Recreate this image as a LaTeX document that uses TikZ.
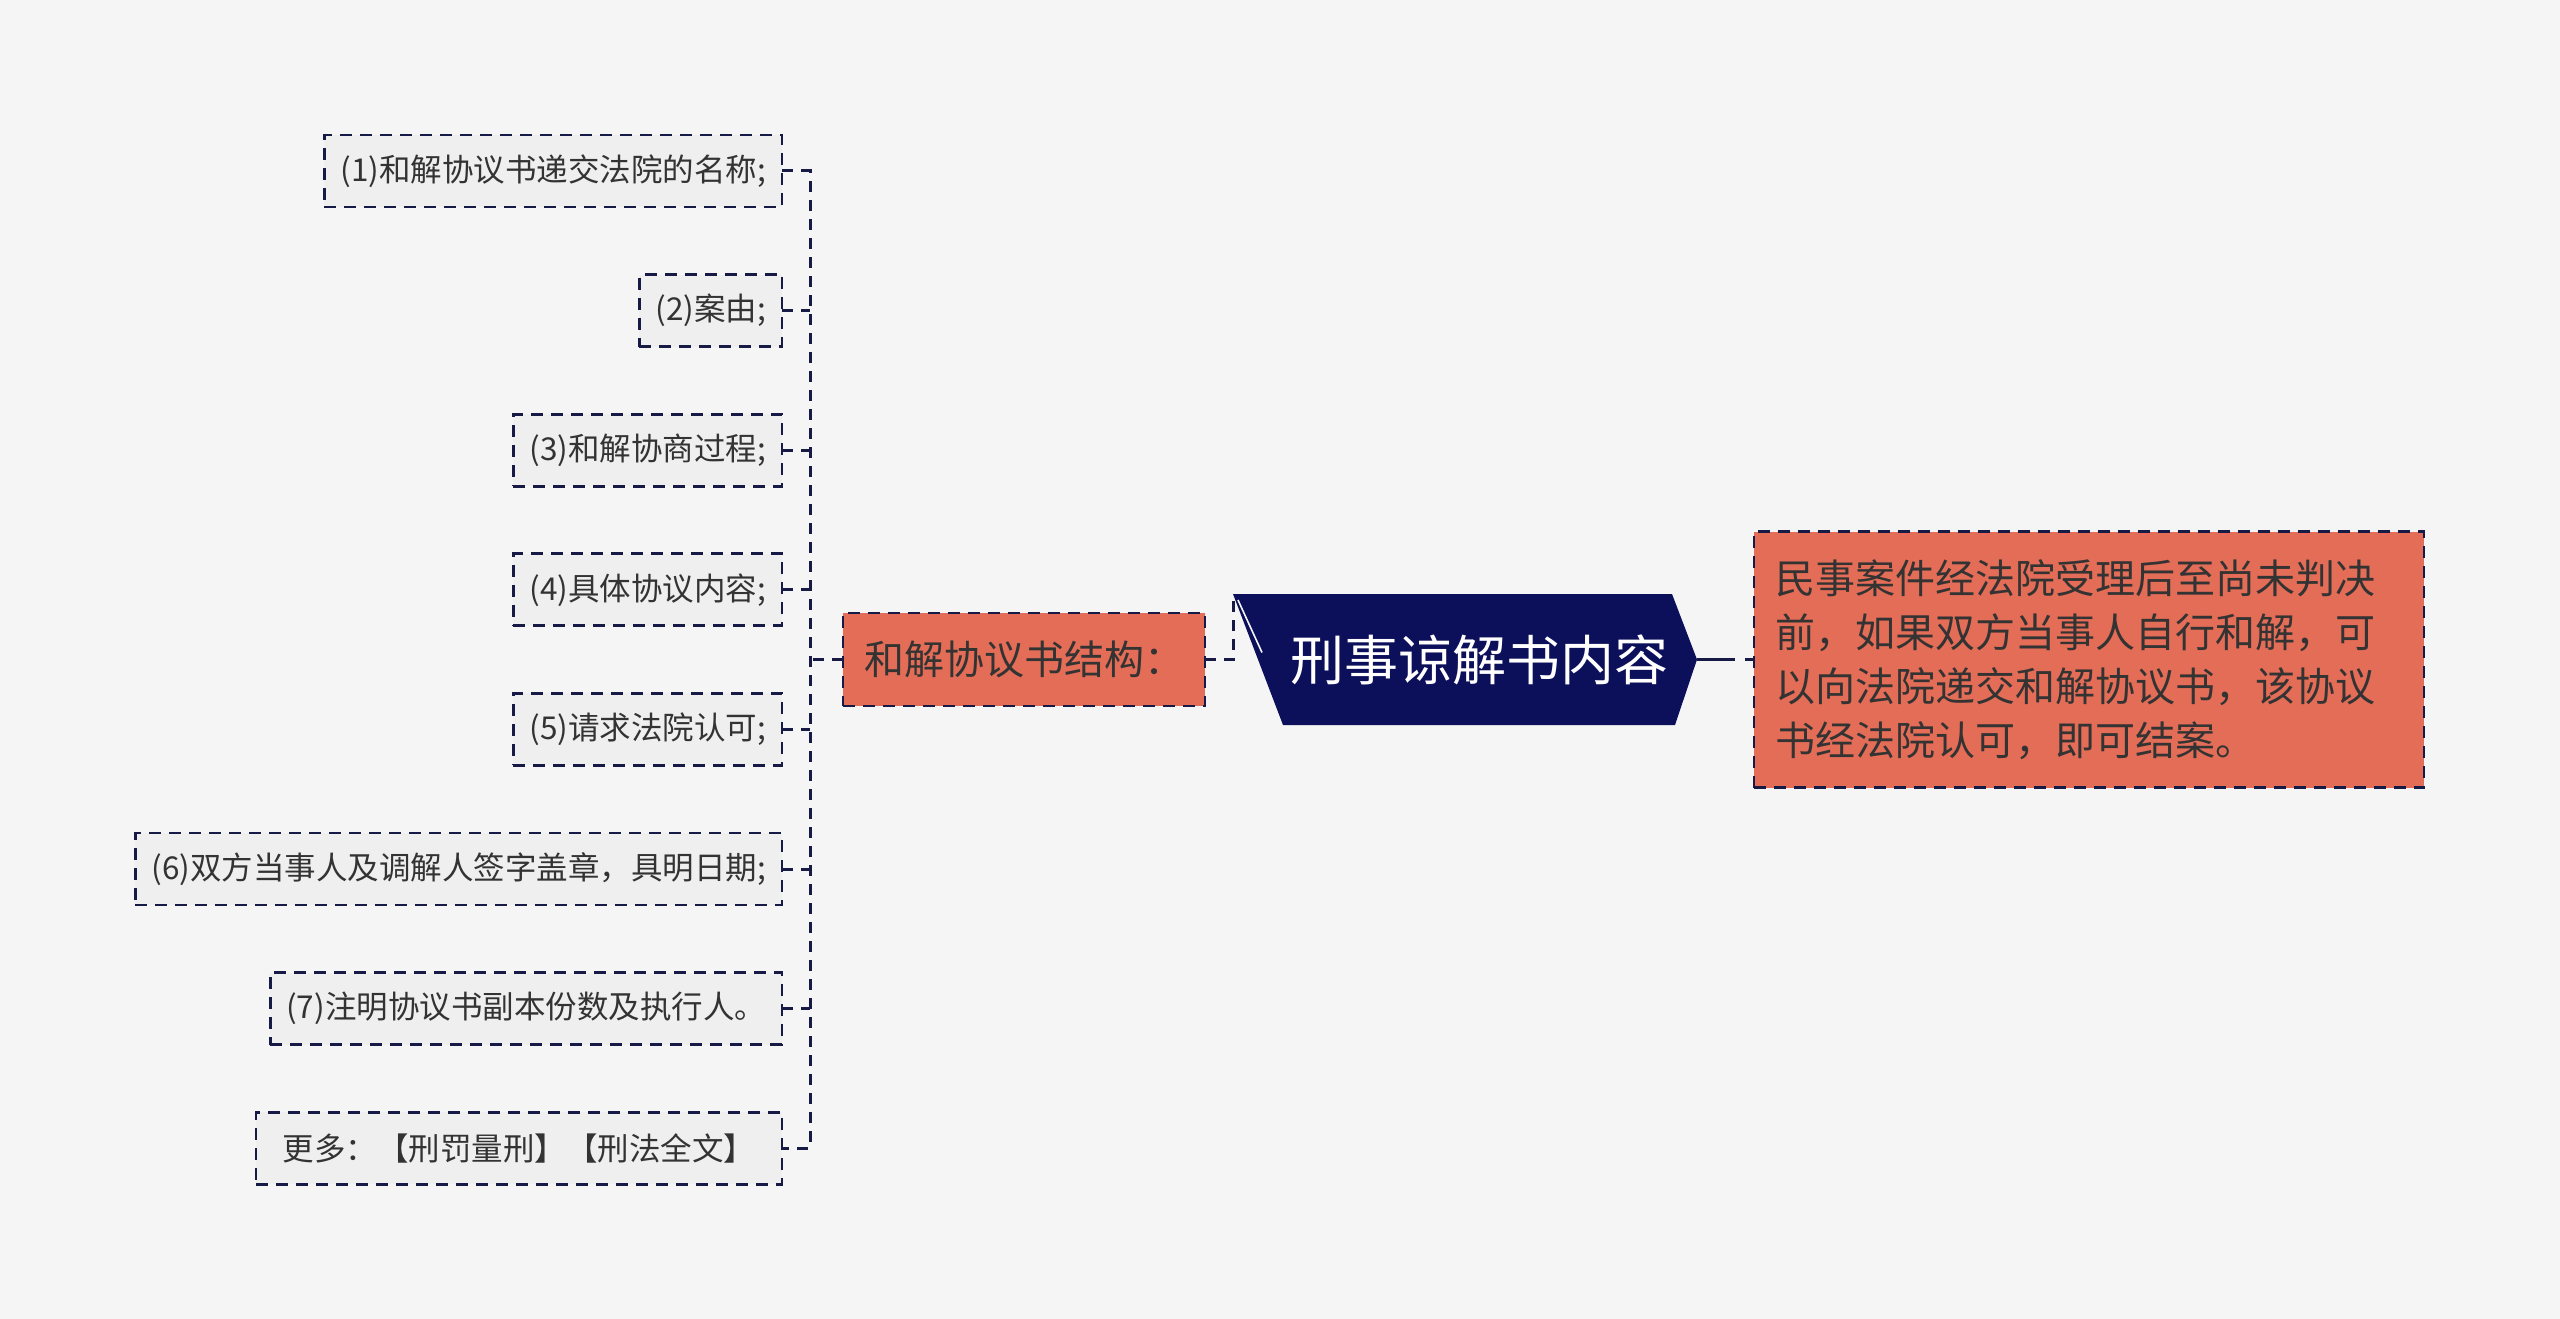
\documentclass[tikz,border=0pt]{standalone}
\usepackage{fontspec}
\setmainfont{Noto Sans CJK SC}
\usetikzlibrary{positioning, backgrounds}
\definecolor{bgcol}{HTML}{F5F5F5}
\definecolor{navy}{HTML}{0C0F5A}
\definecolor{linecol}{HTML}{161A45}
\definecolor{salmon}{HTML}{E46D57}
\definecolor{leafcol}{HTML}{EFEFEF}
\definecolor{textcol}{HTML}{333333}

\begin{document}
\begin{tikzpicture}[
        x=1pt, y=-1pt, node distance=67.6pt and 57pt,
        link/.style={draw=linecol, line width=3pt, dash pattern=on 11pt off 8pt},
        leaf/.style={draw=linecol, line width=2.8pt, dash pattern=on 12pt off 8pt, fill=leafcol, outer sep=0pt, minimum height=72pt, inner xsep=16pt, text=textcol, font=\fontsize{31.5}{40}\selectfont},
        branch/.style={draw=linecol, line width=2.8pt, dash pattern=on 12pt off 8pt, fill=salmon, outer sep=0pt, minimum height=93pt, inner xsep=21pt, text=textcol, font=\fontsize{40}{54}\selectfont},
        topic/.style={minimum width=435pt, minimum height=131pt, inner sep=0pt, outer sep=0pt, text=white, font=\fontsize{54}{60}\selectfont}
    ]
    \begin{scope}[on background layer]
        \fill[bgcol] (0,0) rectangle (2560,1319);
    \end{scope}

    \node[topic] (root) at (1479.5,659.5) {刑事谅解书内容};
    \node[branch, left=of root] (struct) {和解协议书结构：};
    \node[branch, right=of root, text width=628pt, align=left, minimum height=256pt] (note) {民事案件经法院受理后至尚未判决\\前，如果双方当事人自行和解，可\\以向法院递交和解协议书，该协议\\书经法院认可，即可结案。};

    \node[leaf, anchor=east] (l1) at (782,171) {(1)和解协议书递交法院的名称;};
    \node[leaf, below=of l1.south east, anchor=north east] (l2) {(2)案由;};
    \node[leaf, below=of l2.south east, anchor=north east] (l3) {(3)和解协商过程;};
    \node[leaf, below=of l3.south east, anchor=north east] (l4) {(4)具体协议内容;};
    \node[leaf, below=of l4.south east, anchor=north east] (l5) {(5)请求法院认可;};
    \node[leaf, below=of l5.south east, anchor=north east] (l6) {(6)双方当事人及调解人签字盖章，具明日期;};
    \node[leaf, below=of l6.south east, anchor=north east] (l7) {(7)注明协议书副本份数及执行人。};
    \node[leaf, below=of l7.south east, anchor=north east, minimum width=526pt] (l8) {更多：【刑罚量刑】【刑法全文】};

    % root shape
    \begin{scope}[on background layer]
        \fill[navy] ([xshift=-29pt]root.north west) -- ([xshift=-25pt]root.north east) -- (root.east)
            -- ([xshift=-22pt]root.south east) -- ([xshift=21pt]root.south west) -- cycle;
    \end{scope}
    \draw[bgcol, line width=1.6pt] ([xshift=-24pt, yshift=-6pt]root.north west) -- ([yshift=7pt]root.west);

    \coordinate (bus) at (810,0);
    \draw[link] (struct.east) -| ([xshift=-29pt]root.north west);
    \draw[link, dash pattern=on 38pt off 10pt] (root.east) -- (note.west);
    \draw[link] (l1.east) -| (bus |- l8.east) -- (l8.east);
    \draw[link] (l2.east) -- (l2.east -| bus);
    \draw[link] (l3.east) -- (l3.east -| bus);
    \draw[link] (l4.east) -- (l4.east -| bus);
    \draw[link] (l5.east) -- (l5.east -| bus);
    \draw[link] (l6.east) -- (l6.east -| bus);
    \draw[link] (l7.east) -- (l7.east -| bus);
    \draw[link] (struct.west) -- (struct.west -| bus);
\end{tikzpicture}
\end{document}
